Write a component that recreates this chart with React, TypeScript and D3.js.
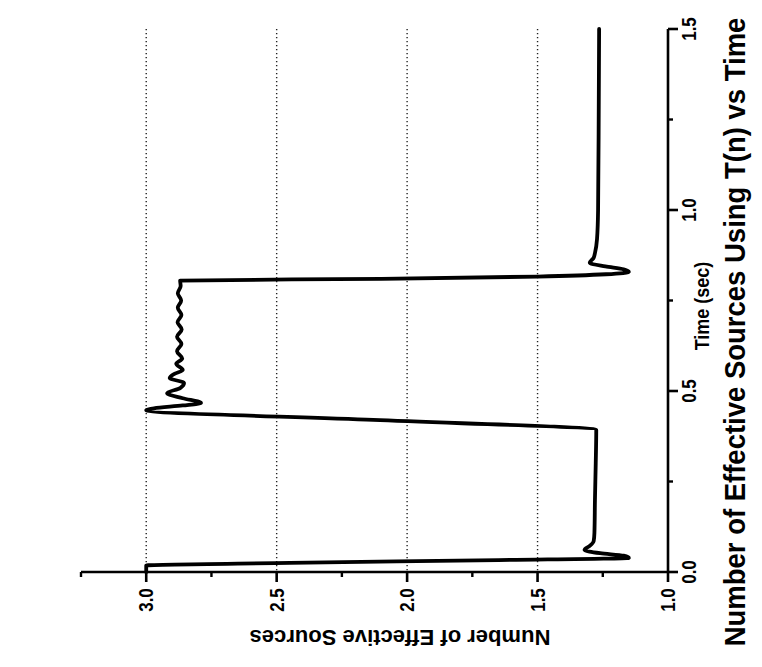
import React from "react";
import * as d3 from "d3";

// Time (sec) and Number of Effective Sources
const time = [
  0.0, 0.018, 0.025, 0.033, 0.039, 0.045, 0.052, 0.061, 0.072, 0.085, 0.108,
  0.2, 0.3, 0.392, 0.42, 0.447, 0.452, 0.46, 0.467, 0.48, 0.494, 0.508, 0.522,
  0.536, 0.548, 0.558, 0.575, 0.59, 0.61, 0.63, 0.65, 0.67, 0.69, 0.71, 0.73,
  0.75, 0.77, 0.79, 0.805, 0.81, 0.816, 0.829, 0.836, 0.844, 0.854, 0.868,
  0.881, 0.92, 1.0, 1.2, 1.5,
];
const sources = [
  3.0, 3.0, 2.45, 1.65, 1.15, 1.17, 1.26, 1.32, 1.3, 1.285, 1.282,
  1.28, 1.277, 1.275, 2.13, 3.0, 2.97, 2.86, 2.79, 2.86, 2.92, 2.87, 2.855,
  2.91, 2.89, 2.86, 2.885, 2.862, 2.882, 2.865, 2.882, 2.864, 2.88, 2.865, 2.879,
  2.866, 2.879, 2.868, 2.87, 2.1, 1.5, 1.15, 1.17, 1.24, 1.3, 1.285,
  1.28, 1.272, 1.268, 1.266, 1.264,
];

const timeTicks = [0.0, 0.5, 1.0, 1.5];
const timeMinorTicks = [0.25, 0.75, 1.25];
const valueTicks = [3.0, 2.5, 2.0, 1.5, 1.0];
const valueMinorTicks = [3.25, 2.75, 2.25, 1.75, 1.25];
const gridValues = [3.0, 2.5, 2.0, 1.5];

const title = "Number of Effective Sources Using T(n) vs Time";
const timeLabel = "Time (sec)";
const valueLabel = "Number of Effective Sources";

const W = 762;
const H = 667;
const FONT = "'Liberation Sans', Arial, Helvetica, sans-serif";

export default function App() {
  const tScale = d3.scaleLinear().domain([0, 1.5]).range([572, 29]);
  const vScale = d3.scaleLinear().domain([1.0, 3.25]).range([668, 81]);
  const fmt = d3.format(".1f");

  const pts = time.map((t, i) => ({ t, v: sources[i] }));
  const line = d3
    .line<{ t: number; v: number }>()
    .x((d) => vScale(d.v))
    .y((d) => tScale(d.t))
    .curve(d3.curveMonotoneY);

  const axisY = tScale(0);
  const axisX = vScale(1.0);

  return (
    <svg
      width={W}
      height={H}
      style={{ position: "absolute", left: 0, top: 0, background: "#fff" }}
    >
      <rect x={0} y={0} width={W} height={H} fill="#fff" />
      {/* dotted grid lines */}
      {gridValues.map((v) => (
        <line
          key={"g" + v}
          x1={vScale(v)}
          x2={vScale(v)}
          y1={tScale(1.5)}
          y2={axisY}
          stroke="#222"
          strokeWidth={1.4}
          strokeDasharray="1.3,2.7"
        />
      ))}

      {/* value axis (bottom) */}
      <line
        x1={vScale(3.25)}
        x2={axisX}
        y1={axisY}
        y2={axisY}
        stroke="#000"
        strokeWidth={2.6}
      />
      {valueTicks.map((v) => (
        <g key={"vt" + v}>
          <line
            x1={vScale(v)}
            x2={vScale(v)}
            y1={axisY}
            y2={axisY + 10}
            stroke="#000"
            strokeWidth={2.6}
          />
          <text
            transform={`translate(${vScale(v)},${axisY + 28}) rotate(-90) scale(1,1.15)`}
            textAnchor="middle"
            dy="0.36em"
            fontFamily={FONT}
            fontWeight="bold"
            fontSize={17}
            fill="#000"
          >
            {fmt(v)}
          </text>
        </g>
      ))}
      {valueMinorTicks.map((v) => (
        <line
          key={"vm" + v}
          x1={vScale(v)}
          x2={vScale(v)}
          y1={axisY}
          y2={axisY + 5}
          stroke="#000"
          strokeWidth={2.4}
        />
      ))}

      {/* time axis (right) */}
      <line
        x1={axisX}
        x2={axisX}
        y1={tScale(0)}
        y2={tScale(1.5)}
        stroke="#000"
        strokeWidth={2.6}
      />
      {timeTicks.map((t) => (
        <g key={"tt" + t}>
          <line
            x1={axisX}
            x2={axisX + 10}
            y1={tScale(t)}
            y2={tScale(t)}
            stroke="#000"
            strokeWidth={2.6}
          />
          <text
            transform={`translate(${axisX + 21},${tScale(t)}) rotate(-90) scale(1,1.15)`}
            textAnchor="middle"
            dy="0.36em"
            fontFamily={FONT}
            fontWeight="bold"
            fontSize={17}
            fill="#000"
          >
            {fmt(t)}
          </text>
        </g>
      ))}
      {timeMinorTicks.map((t) => (
        <line
          key={"tm" + t}
          x1={axisX}
          x2={axisX + 5}
          y1={tScale(t)}
          y2={tScale(t)}
          stroke="#000"
          strokeWidth={2.4}
        />
      ))}

      {/* data curve */}
      <path
        d={line(pts) || ""}
        fill="none"
        stroke="#000"
        strokeWidth={3.8}
        strokeLinejoin="round"
        strokeLinecap="round"
      />

      {/* axis titles */}
      <text
        transform={`translate(702,306) rotate(-90) scale(1,1.15)`}
        textAnchor="middle"
        dy="0.36em"
        fontFamily={FONT}
        fontWeight="bold"
        fontSize={18}
        fill="#000"
      >
        {timeLabel}
      </text>
      <text
        transform={`translate(400,638) rotate(180) scale(1.1,1.1)`}
        textAnchor="middle"
        dy="0.36em"
        fontFamily={FONT}
        fontWeight="bold"
        fontSize={20}
        fill="#000"
      >
        {valueLabel}
      </text>
      <text
        transform={`translate(734,332) rotate(-90) scale(1,1.1)`}
        textAnchor="middle"
        dy="0.36em"
        fontFamily={FONT}
        fontWeight="bold"
        fontSize={27.5}
        fill="#000"
      >
        {title}
      </text>
    </svg>
  );
}
